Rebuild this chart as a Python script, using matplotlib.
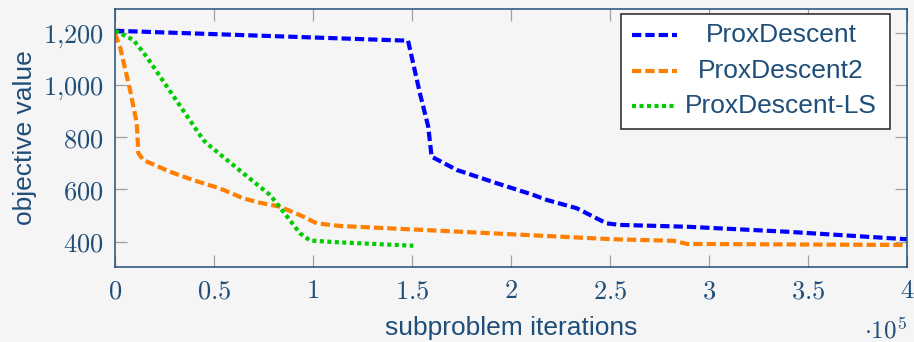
import matplotlib
matplotlib.use("Agg")
import matplotlib.pyplot as plt
from matplotlib.ticker import FuncFormatter

plt.rcParams['mathtext.fontset'] = 'cm'
plt.rcParams['lines.scale_dashes'] = False

# data, x in units of 1e5 subproblem iterations
prox_x = [0, 1.48, 1.54, 1.582, 1.599, 1.726, 1.928, 2.113, 2.18, 2.332, 2.433, 2.483,
          2.55, 2.89, 3.39, 4.0]
prox_y = [1209, 1171, 969, 841, 726, 675, 624, 579, 560, 528, 489, 470,
          464, 457, 438, 409]

prox2_x = [0, 0.025, 0.076, 0.11, 0.118, 0.143, 0.278, 0.395, 0.53, 0.648, 0.732, 0.833,
           0.951, 1.019, 1.136, 1.549, 2.517, 2.82, 2.89, 4.0]
prox2_y = [1198, 1148, 982, 854, 739, 713, 668, 636, 604, 566, 549, 534,
           496, 470, 460, 445, 409, 403, 391, 387]

ls_x = [0, 0.093, 0.16, 0.446, 0.463, 0.648, 0.783, 0.85, 0.934, 0.985, 1.136, 1.507]
ls_y = [1209, 1174, 1109, 790, 777, 662, 579, 515, 432, 404, 397, 384]

labels = ["ProxDescent", "ProxDescent2", "ProxDescent-LS"]
colors = ["#0000ff", "#ff8000", "#00cc00"]

x_ticks = [0, 0.5, 1, 1.5, 2, 2.5, 3, 3.5, 4]
y_ticks = [400, 600, 800, 1000, 1200]

txt = "#1f4e79"
bg = "#f5f5f5"
sans = ["Liberation Sans", "DejaVu Sans"]

fig = plt.figure(figsize=(9.14, 3.42), dpi=100, facecolor=bg)
ax = fig.add_axes([115 / 914, 1 - 267 / 342, 792 / 914, 258.5 / 342])
ax.set_facecolor(bg)

series = [(prox_x, prox_y), (prox2_x, prox2_y), (ls_x, ls_y)]
styles = [(0, (6.7, 2.9)), (0, (6.7, 2.9)), (0, (2.9, 2.5))]
for (xs, ys), c, ls in zip(series, colors, styles):
    ax.plot(xs, ys, color=c, lw=3, linestyle=ls)

ax.set_xlim(0, 4)
ax.set_ylim(302.5, 1294.5)
ax.set_xticks(x_ticks)
ax.set_yticks(y_ticks)


def fmt_x(v, pos):
    s = ("%g" % v)
    return "$" + s + "$"


def fmt_y(v, pos):
    s = "{:,}".format(int(v)).replace(",", "{,}")
    return "$" + s + "$"


ax.xaxis.set_major_formatter(FuncFormatter(fmt_x))
ax.yaxis.set_major_formatter(FuncFormatter(fmt_y))
ax.tick_params(direction="in", length=8.5, width=0.9, color="#a0a0a0",
               top=True, right=True, labelsize=19, labelcolor=txt)
ax.tick_params(axis="x", pad=8)
ax.tick_params(axis="y", pad=8)
for sp in ax.spines.values():
    sp.set_color(txt)
    sp.set_linewidth(1.1)

ax.set_xlabel("subproblem iterations", family=sans, fontsize=19, color=txt)
ax.xaxis.set_label_coords(0.5, -0.19)
ax.set_ylabel("objective value", family=sans, fontsize=19, color=txt)
ax.yaxis.set_label_coords(-0.098, 0.5)

fig.text(907 / 914, 4 / 342, r"$\cdot 10^{5}$", ha="right", va="baseline",
         fontsize=18, color=txt)

# legend drawn in axes coordinates
ax.add_patch(plt.Rectangle((0.639, 0.534), 0.340, 0.444, transform=ax.transAxes,
                           facecolor="white", edgecolor="#222222", lw=1.1, zorder=5))
rows = [0.8975, 0.758, 0.623]
for lab, c, ls, yy in zip(labels, colors, styles, rows):
    ax.plot([0.653, 0.710], [yy, yy], transform=ax.transAxes, color=c, lw=3,
            linestyle=ls, zorder=6)
    ax.text(0.841, yy, lab, transform=ax.transAxes, ha="center", va="center",
            family=sans, fontsize=19, color=txt, zorder=6)

fig.savefig("out.png", dpi=100, facecolor=bg)
